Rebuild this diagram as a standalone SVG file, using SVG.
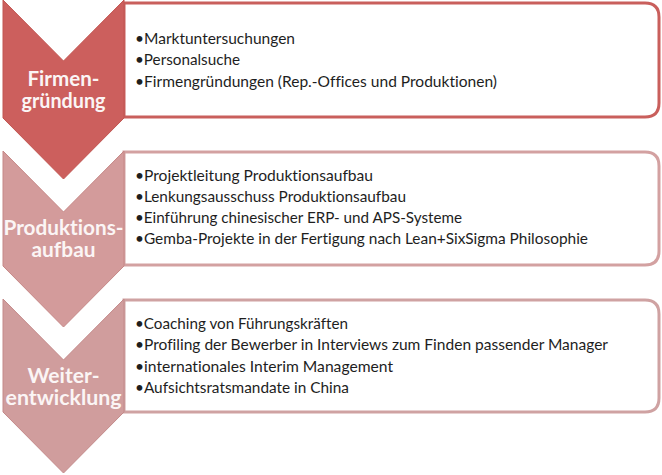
<svg xmlns="http://www.w3.org/2000/svg" width="662" height="475" viewBox="0 0 662 475">
<style>
.box{fill:#ffffff;stroke-width:3}
.b1{stroke:#c95f5c}
.b2{stroke:#d3a1a1}
.b3{stroke:#cfa2a2}
.c1{fill:#cc5f5d;stroke:#c25652;stroke-width:1}
.c2{fill:#d39b9b;stroke:#c68887;stroke-width:1}
.c3{fill:#d09d9d;stroke:#c48a8a;stroke-width:1}
text{font-variant-ligatures:none;font-feature-settings:"liga" 0,"clig" 0}
.lbl{font-family:Lato,"Liberation Sans",sans-serif;font-weight:bold;font-size:20px;fill:#fbf5f5;text-anchor:middle}
.txt{font-family:Lato,"Liberation Sans",sans-serif;font-size:15px;fill:#1e1e1e}
</style>
<rect width="662" height="475" fill="#ffffff"/>
<g id="step1">
<path class="box b1" d="M124,3 H645 Q659,3 659,17 V103 Q659,117 645,117 H124 Z"/>
<polygon class="c1" points="3,0 63.5,61 124,0 124,118 63.5,179 3,118"/>
<text class="lbl" x="63.5" y="86" textLength="72" lengthAdjust="spacingAndGlyphs">Firmen-</text>
<text class="lbl" x="63.5" y="108" textLength="84" lengthAdjust="spacingAndGlyphs">gründung</text>
<text class="txt" x="135" y="44" textLength="160" lengthAdjust="spacingAndGlyphs">•Marktuntersuchungen</text>
<text class="txt" x="135" y="65" textLength="105" lengthAdjust="spacingAndGlyphs">•Personalsuche</text>
<text class="txt" x="135" y="87" textLength="362" lengthAdjust="spacingAndGlyphs">•Firmengründungen (Rep.-Offices und Produktionen)</text>
</g>
<g id="step2">
<path class="box b2" d="M124,152 H645 Q659,152 659,166 V251 Q659,265 645,265 H124 Z"/>
<polygon class="c2" points="3,151 63.5,212 124,151 124,266 63.5,327 3,266"/>
<text class="lbl" x="63.5" y="235" textLength="120" lengthAdjust="spacingAndGlyphs">Produktions-</text>
<text class="lbl" x="63.5" y="257" textLength="64" lengthAdjust="spacingAndGlyphs">aufbau</text>
<text class="txt" x="135" y="181" textLength="238" lengthAdjust="spacingAndGlyphs">•Projektleitung Produktionsaufbau</text>
<text class="txt" x="135" y="202" textLength="271" lengthAdjust="spacingAndGlyphs">•Lenkungsausschuss Produktionsaufbau</text>
<text class="txt" x="135" y="223" textLength="327" lengthAdjust="spacingAndGlyphs">•Einführung chinesischer ERP- und APS-Systeme</text>
<text class="txt" x="135" y="244" textLength="453" lengthAdjust="spacingAndGlyphs">•Gemba-Projekte in der Fertigung nach Lean+SixSigma Philosophie</text>
</g>
<g id="step3">
<path class="box b3" d="M124,300 H645 Q659,300 659,314 V398 Q659,412 645,412 H124 Z"/>
<polygon class="c3" points="3,299 63.5,360 124,299 124,412 63.5,473 3,412"/>
<text class="lbl" x="63.5" y="383" textLength="72" lengthAdjust="spacingAndGlyphs">Weiter-</text>
<text class="lbl" x="63.5" y="405" textLength="116" lengthAdjust="spacingAndGlyphs">entwicklung</text>
<text class="txt" x="135" y="329" textLength="213" lengthAdjust="spacingAndGlyphs">•Coaching von Führungskräften</text>
<text class="txt" x="135" y="350" textLength="473" lengthAdjust="spacingAndGlyphs">•Profiling der Bewerber in Interviews zum Finden passender Manager</text>
<text class="txt" x="135" y="372" textLength="258" lengthAdjust="spacingAndGlyphs">•internationales Interim Management</text>
<text class="txt" x="135" y="393" textLength="214" lengthAdjust="spacingAndGlyphs">•Aufsichtsratsmandate in China</text>
</g>
<g id="connectors"></g>
</svg>
